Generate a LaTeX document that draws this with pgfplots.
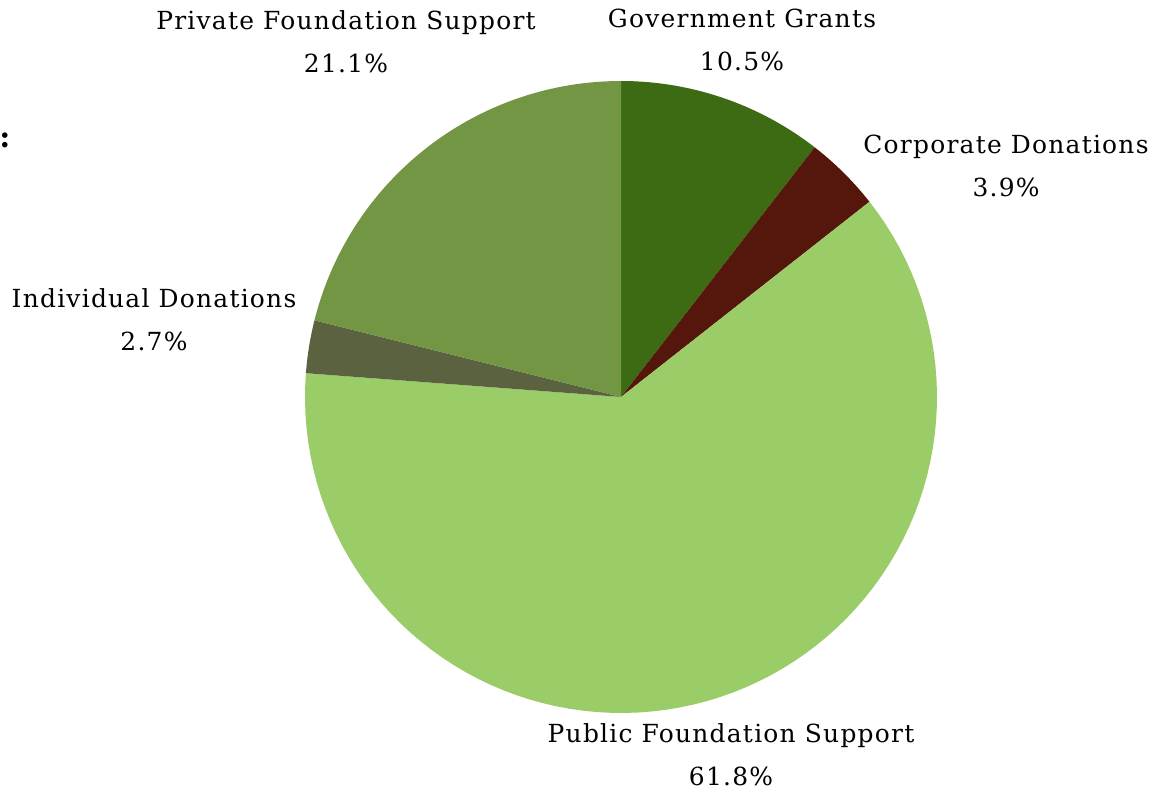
\documentclass[border=0pt]{standalone}
\usepackage{pgfplots}
\pgfplotsset{compat=1.18}
\usepackage{pgfplotstable}
\usepackage{fontspec}
\setmainfont{DejaVu Serif}[LetterSpace=5]

\definecolor{cGov}{HTML}{3D6B14}
\definecolor{cCorp}{HTML}{55170B}
\definecolor{cPub}{HTML}{9ACC68}
\definecolor{cInd}{HTML}{5B6240}
\definecolor{cPriv}{HTML}{729643}

% share of each source, clockwise from 12 o'clock
\pgfplotstableread{
source value colour
Government 10.5 cGov
Corporate 3.9 cCorp
Public 61.8 cPub
Individual 2.7 cInd
Private 21.1 cPriv
}\piedata

\newcommand\lbl{\fontsize{25}{43}\selectfont}

\begin{document}
\begin{tikzpicture}
\path[use as bounding box] (0,0) rectangle (1166bp,792bp);
\begin{axis}[
    hide axis,
    scale only axis,
    width=632bp, height=632bp,
    xmin=-1, xmax=1, ymin=-1, ymax=1,
    at={(621bp,395bp)}, anchor=center,
    clip=false,
]
\def\angacc{90}
\pgfplotsforeachungrouped \i in {0,...,4}{
    \pgfplotstablegetelem{\i}{value}\of\piedata
    \pgfmathsetmacro\angend{\angacc-3.6*\pgfplotsretval}
    \pgfplotstablegetelem{\i}{colour}\of\piedata
    \edef\cmd{\noexpand\addplot[fill=\pgfplotsretval, draw=none, domain=\angend:\angacc, samples=90, variable=\noexpand\t]
        ({cos(\noexpand\t)},{sin(\noexpand\t)}) -- (axis cs:0,0) -- cycle;}
    \cmd
    \global\let\angacc\angend
}
\end{axis}
\node[align=center, font=\lbl] at (346bp,750bp) {Private Foundation Support\\21.1\%};
\node[align=center, font=\lbl] at (742bp,752bp) {Government Grants\\10.5\%};
\node[align=center, font=\lbl] at (1006bp,626bp) {Corporate Donations\\3.9\%};
\node[align=center, font=\lbl] at (154bp,472bp) {Individual Donations\\2.7\%};
\node[align=center, font=\lbl] at (731bp,37bp) {Public Foundation Support\\61.8\%};
\node[font=\fontsize{30}{30}\selectfont\bfseries, inner sep=0pt] at (5bp,652bp) {:};
\end{tikzpicture}
\end{document}
